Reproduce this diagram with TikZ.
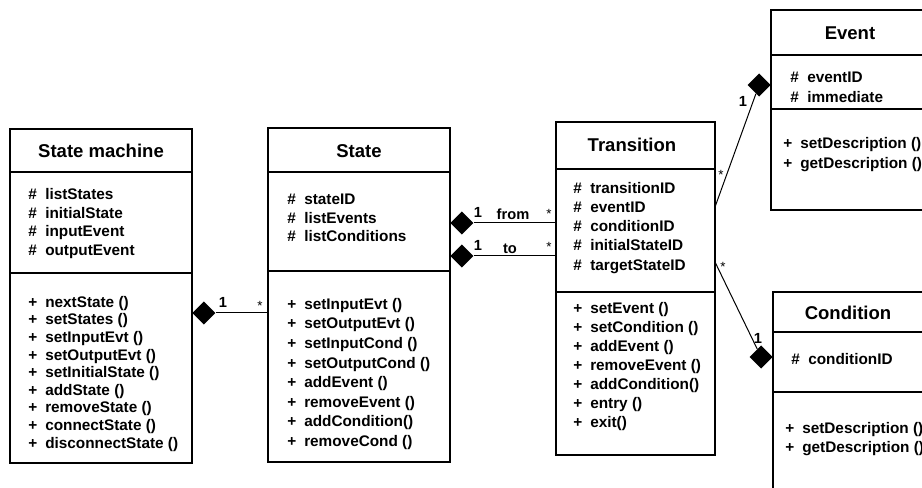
\documentclass[tikz,border=0pt]{standalone}
\usepackage{fontspec}
\setmainfont{Liberation Sans}
\usetikzlibrary{shapes.geometric}
\newcommand{\umlatt}[1]{\makebox[12.75pt][l]{\#}#1}
\newcommand{\umlop}[1]{\makebox[12.75pt][l]{+}#1}

\begin{document}
\begin{tikzpicture}[x=0.75pt, y=-0.75pt,
    classbox/.style={draw, line width=1.4pt, inner sep=0pt, outer sep=0pt, anchor=north west},
    sepline/.style={line width=1.4pt},
    classname/.style={font=\fontsize{13.9}{16}\selectfont\bfseries},
    items/.style={font=\fontsize{11.5}{#1}\selectfont\bfseries, align=left, anchor=north west, inner sep=0pt},
    conn/.style={line width=0.75pt},
    comp/.style={diamond, fill=black, inner sep=0pt, minimum width=17.5pt, minimum height=17.5pt},
    mult/.style={font=\fontsize{11}{13}\selectfont\bfseries, inner sep=0pt},
    star/.style={font=\fontsize{10}{12}\selectfont, inner sep=0pt}]

\useasboundingbox (0,0) rectangle (922,488);

% Class 1: State machine
\begin{scope}[shift={(10,129)}]
    \node[classbox, minimum width=136.5pt, minimum height=250.5pt] (sm) at (0,0) {};
    \draw[sepline] (0,43) -- (182,43);
    \draw[sepline] (0,144) -- (182,144);
    \node[classname] (smName) at (91,22) {State machine};
    \node[items=14pt] (smAtt) at (18,59) {\umlatt{listStates}\\ \umlatt{initialState}\\ \umlatt{inputEvent}\\ \umlatt{outputEvent}};
    \node[items=13.2pt] (smOps) at (18,167) {\umlop{nextState ()}\\ \umlop{setStates ()}\\ \umlop{setInputEvt ()}\\ \umlop{setOutputEvt ()}\\ \umlop{setInitialState ()}\\ \umlop{addState ()}\\ \umlop{removeState ()}\\ \umlop{connectState ()}\\ \umlop{disconnectState ()}};
\end{scope}

% Class 2: State
\begin{scope}[shift={(268,128)}]
    \node[classbox, minimum width=136.5pt, minimum height=250.5pt] (st) at (0,0) {};
    \draw[sepline] (0,44) -- (182,44);
    \draw[sepline] (0,143) -- (182,143);
    \node[classname] (stName) at (91,23) {State};
    \node[items=13.9pt] (stAtt) at (19,66) {\umlatt{stateID}\\ \umlatt{listEvents}\\ \umlatt{listConditions}};
    \node[items=14.7pt] (stOps) at (19,170) {\umlop{setInputEvt ()}\\ \umlop{setOutputEvt ()}\\ \umlop{setInputCond ()}\\ \umlop{setOutputCond ()}\\ \umlop{addEvent ()}\\ \umlop{removeEvent ()}\\ \umlop{addCondition()}\\ \umlop{removeCond ()}};
\end{scope}

% Class 3: Transition
\begin{scope}[shift={(556,122)}]
    \node[classbox, minimum width=119.25pt, minimum height=249.75pt] (tr) at (0,0) {};
    \draw[sepline] (0,47) -- (159,47);
    \draw[sepline] (0,170) -- (159,170);
    \node[classname] (trName) at (76,23) {Transition};
    \node[items=14.4pt] (trAtt) at (17,60) {\umlatt{transitionID}\\ \umlatt{eventID}\\ \umlatt{conditionID}\\ \umlatt{initialStateID}\\ \umlatt{targetStateID}};
    \node[items=14.25pt] (trOps) at (17,180) {\umlop{setEvent ()}\\ \umlop{setCondition ()}\\ \umlop{addEvent ()}\\ \umlop{removeEvent ()}\\ \umlop{addCondition()}\\ \umlop{entry ()}\\ \umlop{exit()}};
\end{scope}

% Class 4: Event
\begin{scope}[shift={(771,10)}]
    \node[classbox, minimum width=119.25pt, minimum height=150pt] (ev) at (0,0) {};
    \draw[sepline] (0,45) -- (159,45);
    \draw[sepline] (0,99) -- (159,99);
    \node[classname] (evName) at (79,23) {Event};
    \node[items=15pt] (evAtt) at (19,62) {\umlatt{eventID}\\ \umlatt{immediate}};
    \node[items=15pt] (evOps) at (12,127) {\umlop{setDescription ()}\\ \umlop{getDescription ()}};
\end{scope}

% Class 5: Condition
\begin{scope}[shift={(773,292)}]
    \node[classbox, minimum width=114pt, minimum height=157.5pt] (co) at (0,0) {};
    \draw[sepline] (0,40) -- (152,40);
    \draw[sepline] (0,100) -- (152,100);
    \node[classname] (coName) at (75,21) {Condition};
    \node[items=15pt] (coAtt) at (18,61) {\umlatt{conditionID}};
    \node[items=14.25pt] (coOps) at (12,130) {\umlop{setDescription ()}\\ \umlop{getDescription ()}};
\end{scope}

% Compositions
\node[comp, anchor=west] (dSM) at (sm.east |- 0,313) {};
\draw[conn] (dSM) -- (st.west |- dSM);
\node[comp, anchor=west] (dFrom) at (st.east |- 0,223) {};
\draw[conn] (dFrom) -- (tr.west |- dFrom);
\node[comp, anchor=west] (dTo) at (st.east |- 0,256) {};
\draw[conn] (dTo) -- (tr.west |- dTo);
\node[comp, anchor=east] (dEv) at (ev.west |- 0,85) {};
\coordinate (trEv) at (tr.east |- 0,207);
\draw[conn] (trEv) -- (dEv);
\node[comp, anchor=east] (dCo) at (co.west |- 0,357) {};
\coordinate (trCo) at (tr.east |- 0,262);
\draw[conn] (trCo) -- (dCo);

% Multiplicities and roles
\node[mult] (m1) at (223,302) {1};
\node[star] (s1) at (260,306) {*};
\node[mult] (m2) at (478,212) {1};
\node[mult] (lFrom) at (513,214) {from};
\node[star] (s2) at (549,214) {*};
\node[mult] (m3) at (478,245) {1};
\node[mult] (lTo) at (510,249) {to};
\node[star] (s3) at (549,247) {*};
\node[mult] (m4) at (743,101) {1};
\node[star] (s4) at (721,175) {*};
\node[mult] (m5) at (758,338) {1};
\node[star] (s5) at (723,267) {*};

\end{tikzpicture}
\end{document}
